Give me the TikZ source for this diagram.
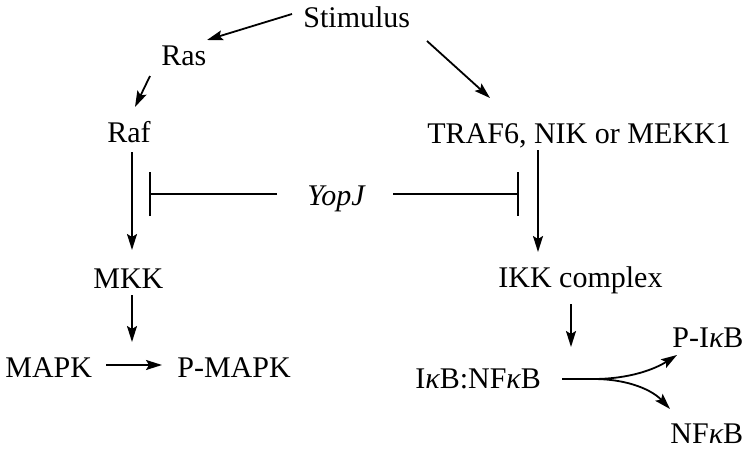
\documentclass[tikz,border=0pt]{standalone}
\usepackage{fontspec}
\setmainfont{Liberation Serif}
\usetikzlibrary{arrows.meta}
\begin{document}
\begin{tikzpicture}[x=0.5pt,y=-0.5pt,
  lbl/.style={anchor=base west,inner sep=0pt,font=\fontsize{15}{18}\selectfont},
  arr/.style={line width=0.9pt,-{Stealth[length=8pt,width=5pt,inset=1.5pt]}},
  inh/.style={line width=0.9pt,-{Bar[width=22pt,line width=0.9pt]}}]
\useasboundingbox (0,0) rectangle (750,455);
\node[lbl] (stim)  at (303,27)  {Stimulus};
\node[lbl] (ras)   at (161,65)  {Ras};
\node[lbl] (raf)   at (107,142) {Raf};
\node[lbl] (traf)  at (427,143) {TRAF6, NIK or MEKK1};
\node[lbl] (yopj)  at (307,205) {\itshape YopJ};
\node[lbl] (mkk)   at (93,288)  {MKK};
\node[lbl] (mapk)  at (5,377)   {MAPK};
\node[lbl] (pmapk) at (177,377) {P-MAPK};
\node[lbl] (ikk)   at (498,287) {IKK complex};
\node[lbl] (ikb)   at (415,388) {I{\itshape κ}B:NF{\itshape κ}B};
\node[lbl] (pikb)  at (672,347) {P-I{\itshape κ}B};
\node[lbl] (nfkb)  at (670,443) {NF{\itshape κ}B};
% arrows
\draw[arr] ([shift={(-11,-13)}]stim.base west) -- ([shift={(46,-25)}]ras.base west);
\draw[arr] ([shift={(-11,11)}]ras.base west) -- ([shift={(28,-35)}]raf.base west);
\draw[arr] ([shift={(124,14)}]stim.base west) -- ([shift={(63,-45)}]traf.base west);
\draw[arr] ([shift={(25,10)}]raf.base west) -- ([shift={(25,108)}]raf.base west) coordinate (mkktop);
\draw[arr] ([shift={(39,7)}]mkk.base west) -- ([shift={(127,-35)}]mapk.base west);
\draw[arr] ([shift={(101,-12)}]mapk.base west) -- ([shift={(-15,-12)}]pmapk.base west);
\draw[arr] ([shift={(111,7)}]traf.base west) -- ([shift={(40,-35)}]ikk.base west);
\draw[arr] ([shift={(73,17)}]ikk.base west) -- ([shift={(156,-41)}]ikb.base west);
% branch
\coordinate (jn) at ([shift={(178,-9)}]ikb.base west);
\draw[line width=0.9pt] ([shift={(147,-9)}]ikb.base west) -- (jn);
\draw[arr] (jn) .. controls ([shift={(37,0)}]jn) and ([shift={(62,-10)}]jn) .. ([shift={(5,8)}]pikb.base west);
\draw[arr] (jn) .. controls ([shift={(37,0)}]jn) and ([shift={(60,12)}]jn) .. ([shift={(0,-34)}]nfkb.base west);
% inhibition
\draw[inh] ([shift={(-30,-11)}]yopj.base west) -- ([shift={(42,52)}]raf.base west);
\draw[inh] ([shift={(86,-11)}]yopj.base west) -- ([shift={(92,51)}]traf.base west);
\end{tikzpicture}
\end{document}
